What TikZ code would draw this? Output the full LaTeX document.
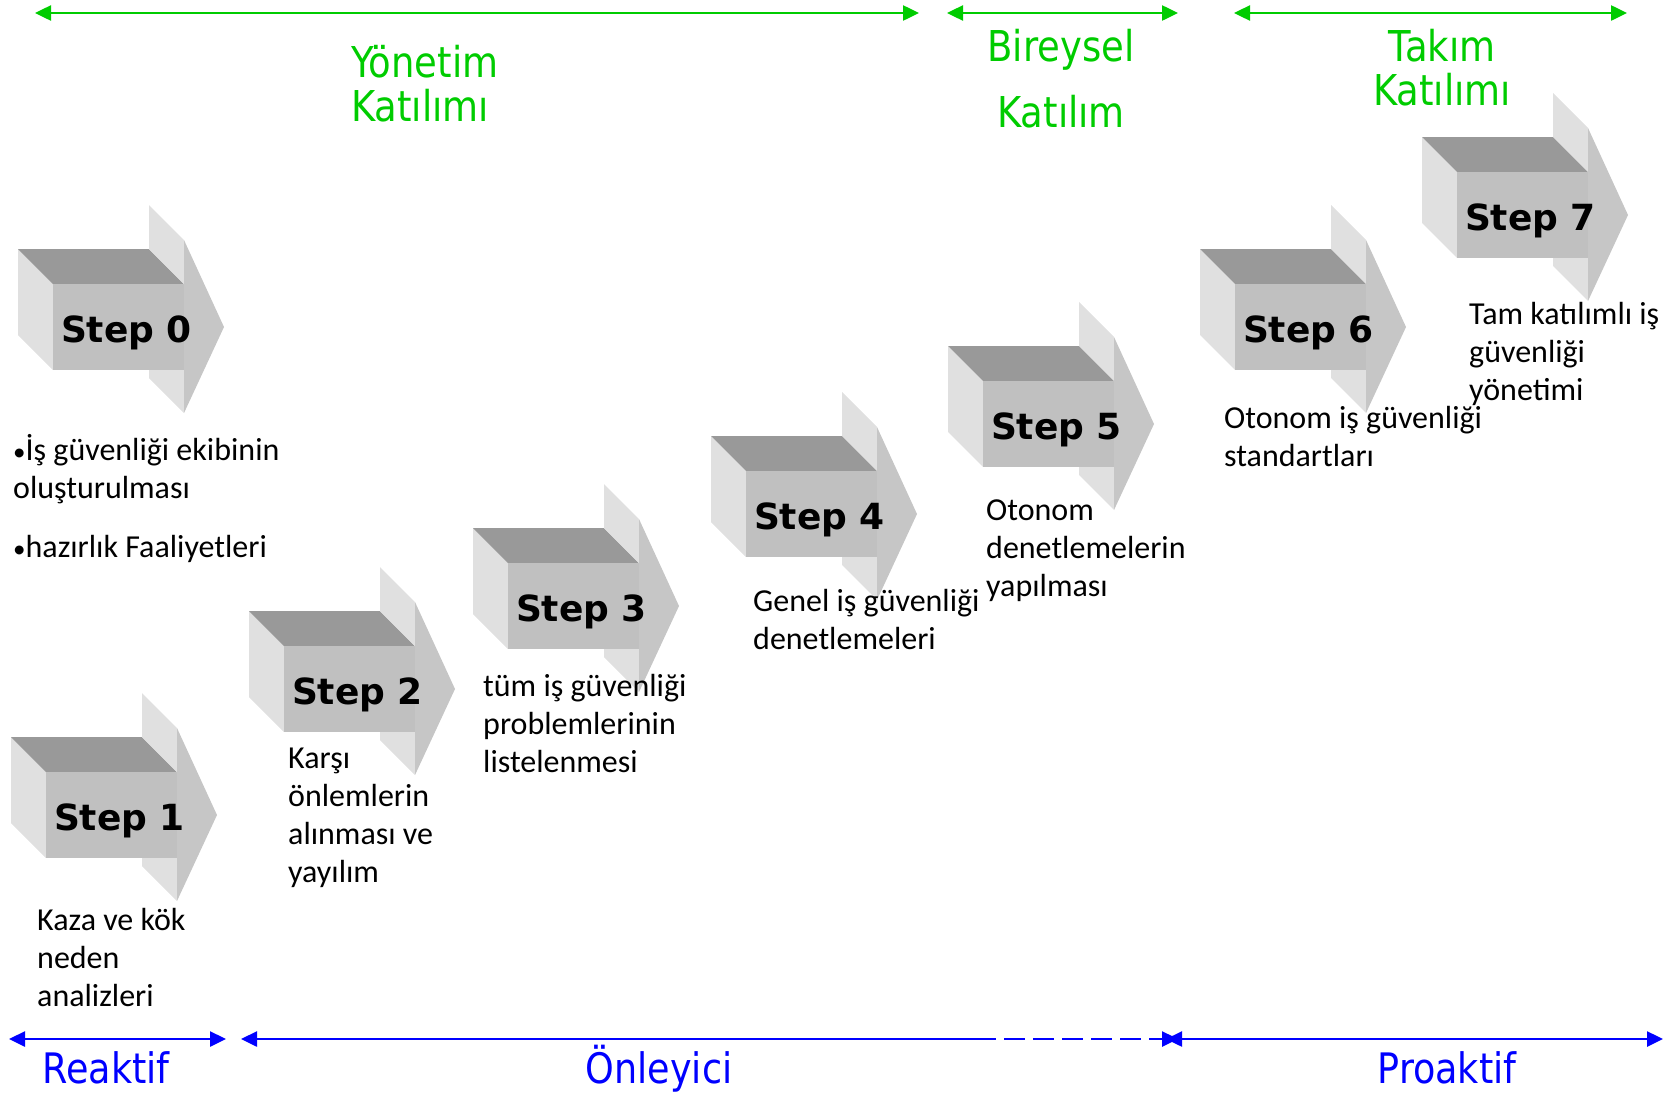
\documentclass[tikz,border=0pt]{standalone}
\usepackage{fontspec}
\setmainfont{Carlito}
\newfontfamily\labelfont[FakeStretch=0.87]{DejaVu Sans}
\newfontfamily\stepfont{DejaVu Sans}
\usetikzlibrary{arrows.meta}
\definecolor{sidegray}{HTML}{E0E0E0}
\definecolor{topgray}{HTML}{999999}
\definecolor{frontgray}{HTML}{C0C0C0}
\definecolor{headgray}{HTML}{C6C6C6}
\definecolor{groupgreen}{HTML}{00CC00}
\definecolor{phaseblue}{HTML}{0000FF}
\newcommand{\bul}{{\fontsize{25}{38}\selectfont•}}

\begin{document}
\begin{tikzpicture}
  [x=1pt,y=-1pt,>={Triangle[length=16pt,width=15pt]},
   steplabel/.style={anchor=base,inner sep=0pt,font=\stepfont\bfseries\fontsize{36}{42}\selectfont},
   desc/.style={anchor=base west,align=left,inner sep=0pt,font=\fontsize{32}{38}\selectfont},
   group/.style={inner sep=0pt,text=groupgreen,font=\labelfont\fontsize{42.5}{44}\selectfont},
   phase/.style={anchor=base,inner sep=0pt,text=phaseblue,font=\labelfont\fontsize{42}{44}\selectfont},
   span/.style={line width=2.5pt,<->}]
  \useasboundingbox (0,0) rectangle (1675,1093);
  \foreach \n/\px/\py in {0/53/284,1/46/772,2/284/646,3/508/563,4/746/471,5/983/381,6/1235/284,7/1457/172}{
    \begin{scope}[shift={(\px,\py)}]
      \fill[sidegray] (-35,-35) -- (0,0) -- (0,86) -- (-35,51) -- cycle;
      \fill[topgray] (-35,-35) -- (96,-35) -- (131,0) -- (0,0) -- cycle;
      \fill[sidegray] (96,-79) -- (131,-44) -- (131,0) -- (96,-35) -- cycle;
      \fill[sidegray] (96,86) -- (96,94) -- (131,129) -- (131,86) -- cycle;
      \fill[frontgray] (0,0) rectangle (131,86);
      \fill[headgray] (131,-44) -- (171,43) -- (131,129) -- cycle;
      \node[steplabel] (step\n) at (73.5,58) {Step \n};
    \end{scope}
  }
  \node[desc] (desc0) at (13,557) {\bul İş güvenliği ekibinin\\oluşturulması\\[21pt]\bul hazırlık Faaliyetleri};
  \node[desc] (desc1) at (37,1006) {Kaza ve kök\\neden\\analizleri};
  \node[desc] (desc2) at (288,882) {Karşı\\önlemlerin\\alınması ve\\yayılım};
  \node[desc] (desc3) at (483,772) {tüm iş güvenliği\\problemlerinin\\listelenmesi};
  \node[desc] (desc4) at (753,649) {Genel iş güvenliği\\denetlemeleri};
  \node[desc] (desc5) at (986,596) {Otonom\\denetlemelerin\\yapılması};
  \node[desc] (desc6) at (1224,466) {Otonom iş güvenliği\\standartları};
  \node[desc] (desc7) at (1469,400) {Tam katılımlı iş\\güvenliği\\yönetimi};
  \node[group,anchor=base west,align=left] (yonetim) at (351,121) {Yönetim\\Katılımı};
  \node[group,anchor=base,align=center] (bireysel) at (1061,127) {Bireysel\\[22pt]Katılım};
  \node[group,anchor=base,align=center] (takim) at (1442,105) {Takım\\Katılımı};
  \node[phase] (reaktif) at (106,1083) {Reaktif};
  \node[phase] (onleyici) at (659,1083) {Önleyici};
  \node[phase] (proaktif) at (1447,1083) {Proaktif};
  \coordinate (ga) at (35,13);
  \coordinate (gb) at (919,13);
  \coordinate (gc) at (947,13);
  \coordinate (gd) at (1178,13);
  \coordinate (ge) at (1234,13);
  \coordinate (gf) at (1627,13);
  \coordinate (ba) at (9,1039);
  \coordinate (bb) at (226,1039);
  \coordinate (bc) at (241,1039);
  \coordinate (bd) at (975,1039);
  \coordinate (be) at (1178,1039);
  \coordinate (bf) at (1166,1039);
  \coordinate (bg) at (1663,1039);
  \draw[span,groupgreen] (ga) -- (gb);
  \draw[span,groupgreen] (gc) -- (gd);
  \draw[span,groupgreen] (ge) -- (gf);
  \draw[span,phaseblue] (ba) -- (bb);
  \draw[span,phaseblue,<-] (bc) -- (bd);
  \draw[span,phaseblue,->,dash pattern=on 21pt off 8pt] (bd) -- (be);
  \draw[span,phaseblue] (bf) -- (bg);
\end{tikzpicture}
\end{document}
